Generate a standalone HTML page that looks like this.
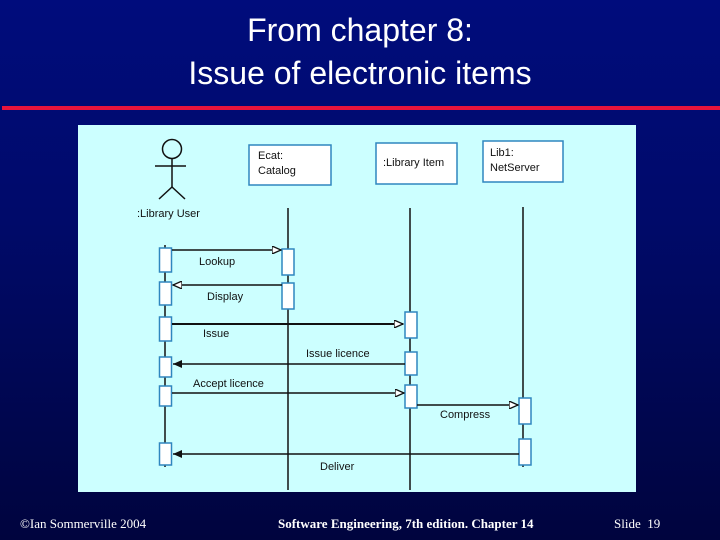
<!DOCTYPE html>
<html><head><meta charset="utf-8"><style>
html,body{margin:0;padding:0}
body{width:720px;height:540px;overflow:hidden;background:linear-gradient(#000c7c 0%,#000a6a 40%,#00043e 100%);position:relative;font-family:"Liberation Sans",sans-serif}
.t{position:absolute;left:0;width:720px;text-align:center;color:#fff;font-size:32px;line-height:40px}
.f{position:absolute;top:516px;color:#fff;font-family:"Liberation Serif",serif;font-size:13px}
</style></head><body>
<div class="t" style="top:10px">From chapter 8:</div>
<div class="t" style="top:53px">Issue of electronic items</div>
<div style="position:absolute;left:2px;top:106px;width:718px;height:4px;background:#e8143c"></div>
<svg style="position:absolute;left:0;top:0" width="720" height="540" font-family="Liberation Sans, sans-serif" font-size="11">
<defs><marker id="a" markerWidth="10" markerHeight="8" refX="9" refY="4" orient="auto" markerUnits="userSpaceOnUse"><path d="M0,0 L9,4 L0,8 Z" fill="#fff" stroke="#111" stroke-width="1.3"/></marker>
<marker id="b" markerWidth="10" markerHeight="8" refX="9" refY="4" orient="auto" markerUnits="userSpaceOnUse"><path d="M0,0 L9,4 L0,8 Z" fill="#111"/></marker></defs>
<rect x="78" y="125" width="558" height="367" fill="#ccffff"/>
<g stroke="#111" stroke-width="1.5" fill="none">
<circle cx="172" cy="149" r="9.5"/>
<line x1="172" y1="158" x2="172" y2="187"/><line x1="155" y1="166" x2="186" y2="166"/>
<line x1="172" y1="187" x2="159" y2="199"/><line x1="172" y1="187" x2="185" y2="199"/>
<line x1="165" y1="245" x2="165" y2="467"/>
<line x1="288" y1="208" x2="288" y2="490"/>
<line x1="410" y1="208" x2="410" y2="490"/>
<line x1="523" y1="207" x2="523" y2="467"/>
</g>
<text x="137" y="217" fill="#111">:Library User</text>
<g fill="#fff" stroke="#2f86bf" stroke-width="1.5">
<rect x="249" y="145" width="82" height="40"/><rect x="376" y="143" width="81" height="41"/><rect x="483" y="141" width="80" height="41"/>
<rect x="159.5" y="248" width="12" height="24"/><rect x="159.5" y="282" width="12" height="23"/><rect x="159.5" y="317" width="12" height="24"/><rect x="159.5" y="357" width="12" height="20"/><rect x="159.5" y="386" width="12" height="20"/><rect x="159.5" y="443" width="12" height="22"/>
<rect x="282" y="249" width="12" height="26"/><rect x="282" y="283" width="12" height="26"/>
<rect x="405" y="312" width="12" height="26"/><rect x="405" y="352" width="12" height="23"/><rect x="405" y="385" width="12" height="23"/>
<rect x="519" y="398" width="12" height="26"/><rect x="519" y="439" width="12" height="26"/>
</g>
<g fill="#111">
<text x="258" y="159">Ecat:</text><text x="258" y="174">Catalog</text>
<text x="383" y="166">:Library Item</text>
<text x="490" y="156">Lib1:</text><text x="490" y="171">NetServer</text>
<text x="199" y="265">Lookup</text><text x="207" y="300">Display</text><text x="203" y="337">Issue</text>
<text x="306" y="357">Issue licence</text><text x="193" y="387">Accept licence</text>
<text x="440" y="418">Compress</text><text x="320" y="470">Deliver</text>
</g>
<g stroke="#111" stroke-width="1.5">
<line x1="172" y1="250" x2="281" y2="250" marker-end="url(#a)"/>
<line x1="282" y1="285" x2="173" y2="285" marker-end="url(#a)"/>
<line x1="172" y1="324" x2="403" y2="324" stroke-width="2" marker-end="url(#a)"/>
<line x1="405" y1="364" x2="173" y2="364" marker-end="url(#b)"/>
<line x1="172" y1="393" x2="404" y2="393" marker-end="url(#a)"/>
<line x1="417" y1="405" x2="518" y2="405" marker-end="url(#a)"/>
<line x1="519" y1="454" x2="173" y2="454" marker-end="url(#b)"/>
</g>
</svg>
<div class="f" style="left:20px">©Ian Sommerville 2004</div>
<div class="f" style="left:278px;font-weight:bold">Software Engineering, 7th edition. Chapter 14</div>
<div class="f" style="left:614px">Slide&nbsp; 19</div>
</body></html>
